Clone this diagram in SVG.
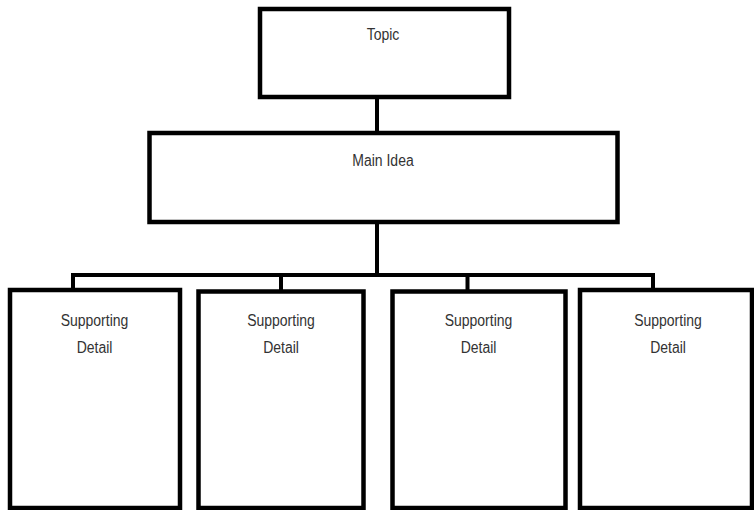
<svg xmlns="http://www.w3.org/2000/svg" width="754" height="510" viewBox="0 0 754 510">
<style>
.box{fill:#fff;stroke:#000;stroke-width:4.5}
.con{fill:none;stroke:#000;stroke-width:4}
.t{font-family:"Liberation Sans",Arial,sans-serif;font-size:14px;fill:#333;text-anchor:middle}
</style>
<rect width="754" height="510" fill="#fff"/>
<g id="connectors">
<line class="con" x1="377" y1="97" x2="377" y2="133"/>
<line class="con" x1="377" y1="222" x2="377" y2="275"/>
<polyline class="con" points="73,290 73,275 653,275 653,290"/>
<line class="con" x1="281" y1="275" x2="281" y2="291"/>
<line class="con" x1="467.5" y1="275" x2="467.5" y2="291"/>
</g>
<g id="topic">
<rect class="box" x="260" y="9" width="249" height="88"/>
<text class="t" transform="translate(383,40) scale(1,1.17)">Topic</text>
</g>
<g id="main-idea">
<rect class="box" x="149.5" y="133" width="468" height="89"/>
<text class="t" transform="translate(383,166) scale(1,1.17)">Main Idea</text>
</g>
<g id="detail-1">
<rect class="box" x="10" y="290" width="170" height="218"/>
<text class="t" transform="translate(94.5,325.5) scale(1,1.17)">Supporting</text>
<text class="t" transform="translate(94.5,352.5) scale(1,1.17)">Detail</text>
</g>
<g id="detail-2">
<rect class="box" x="198.5" y="291.5" width="165" height="216.5"/>
<text class="t" transform="translate(281,325.5) scale(1,1.17)">Supporting</text>
<text class="t" transform="translate(281,352.5) scale(1,1.17)">Detail</text>
</g>
<g id="detail-3">
<rect class="box" x="392.5" y="291.5" width="173" height="216.5"/>
<text class="t" transform="translate(478.5,325.5) scale(1,1.17)">Supporting</text>
<text class="t" transform="translate(478.5,352.5) scale(1,1.17)">Detail</text>
</g>
<g id="detail-4">
<rect class="box" x="580" y="290" width="172" height="218"/>
<text class="t" transform="translate(668,325.5) scale(1,1.17)">Supporting</text>
<text class="t" transform="translate(668,352.5) scale(1,1.17)">Detail</text>
</g>
</svg>
